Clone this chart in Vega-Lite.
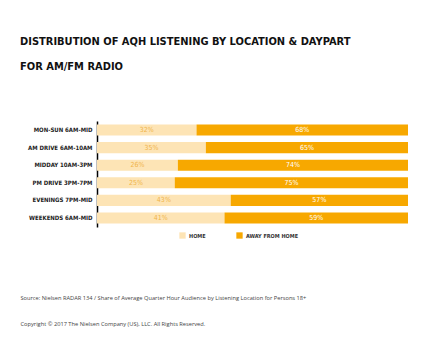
{
  "$schema": "https://vega.github.io/schema/vega-lite/v6.json",
  "autosize": "none",
  "width": 311,
  "height": 106,
  "padding": {"left": 97, "top": 121, "right": 23, "bottom": 117},
  "background": "white",
  "title": {
    "text": ["DISTRIBUTION OF AQH LISTENING BY LOCATION & DAYPART", "FOR AM/FM RADIO"],
    "anchor": "start",
    "frame": "group",
    "dx": -77,
    "offset": 49,
    "font": "DejaVu Sans Condensed, Liberation Sans Narrow, sans-serif",
    "fontWeight": "bold",
    "fontSize": 11,
    "lineHeight": 25,
    "color": "#111111"
  },
  "data": {
    "values": [
      {"daypart": "MON-SUN 6AM-MID", "loc": "HOME", "k": 1, "pct": 32},
      {"daypart": "MON-SUN 6AM-MID", "loc": "AWAY FROM HOME", "k": 2, "pct": 68},
      {"daypart": "AM DRIVE 6AM-10AM", "loc": "HOME", "k": 1, "pct": 35},
      {"daypart": "AM DRIVE 6AM-10AM", "loc": "AWAY FROM HOME", "k": 2, "pct": 65},
      {"daypart": "MIDDAY 10AM-3PM", "loc": "HOME", "k": 1, "pct": 26},
      {"daypart": "MIDDAY 10AM-3PM", "loc": "AWAY FROM HOME", "k": 2, "pct": 74},
      {"daypart": "PM DRIVE 3PM-7PM", "loc": "HOME", "k": 1, "pct": 25},
      {"daypart": "PM DRIVE 3PM-7PM", "loc": "AWAY FROM HOME", "k": 2, "pct": 75},
      {"daypart": "EVENINGS 7PM-MID", "loc": "HOME", "k": 1, "pct": 43},
      {"daypart": "EVENINGS 7PM-MID", "loc": "AWAY FROM HOME", "k": 2, "pct": 57},
      {"daypart": "WEEKENDS 6AM-MID", "loc": "HOME", "k": 1, "pct": 41},
      {"daypart": "WEEKENDS 6AM-MID", "loc": "AWAY FROM HOME", "k": 2, "pct": 59}
    ]
  },
  "transform": [
    {"stack": "pct", "groupby": ["daypart"], "sort": [{"field": "k"}], "as": ["x0", "x1"]},
    {"calculate": "(datum.x0 + datum.x1) / 2", "as": "mid"},
    {"calculate": "datum.pct + '%'", "as": "label"}
  ],
  "encoding": {
    "y": {
      "field": "daypart",
      "type": "nominal",
      "sort": null,
      "scale": {"paddingInner": 0.37, "paddingOuter": 0.2},
      "axis": {
        "title": null,
        "ticks": false,
        "domainColor": "#000000",
        "domainWidth": 1.5,
        "labelFont": "DejaVu Sans Condensed, Liberation Sans Narrow, sans-serif",
        "labelFontWeight": "bold",
        "labelFontSize": 6,
        "labelColor": "#222222",
        "labelPadding": 5
      }
    }
  },
  "layer": [
    {
      "mark": {"type": "bar"},
      "encoding": {
        "x": {
          "field": "x0",
          "type": "quantitative",
          "scale": {"domain": [0, 100], "nice": false},
          "axis": {
            "title": [
              "Source: Nielsen RADAR 134 / Share of Average Quarter Hour Audience by Listening Location for Persons 18+",
              "Copyright © 2017 The Nielsen Company (US), LLC. All Rights Reserved."
            ],
            "titleAnchor": "start",
            "titleAlign": "left",
            "titleX": -77,
            "titleY": 72,
            "titleBaseline": "alphabetic",
            "titleFont": "Open Sans",
            "titleFontWeight": "normal",
            "titleFontSize": 5.7,
            "titleColor": "#444444",
            "titleLineHeight": 26,
            "labels": false,
            "ticks": false,
            "domain": false,
            "grid": false
          }
        },
        "x2": {"field": "x1"},
        "color": {
          "field": "loc",
          "type": "nominal",
          "scale": {"domain": ["HOME", "AWAY FROM HOME"], "range": ["#fde4b5", "#f7a800"]},
          "legend": {
            "title": null,
            "orient": "none",
            "legendX": 82,
            "legendY": 111,
            "direction": "horizontal",
            "symbolType": "square",
            "symbolSize": 40,
            "symbolOpacity": 1,
            "symbolStrokeWidth": 0,
            "labelFont": "DejaVu Sans Condensed, Liberation Sans Narrow, sans-serif",
            "labelFontWeight": "bold",
            "labelFontSize": 5.5,
            "labelColor": "#333333",
            "labelOffset": 3,
            "columnPadding": 30
          }
        }
      }
    },
    {
      "mark": {"type": "text", "font": "DejaVu Sans Condensed, Liberation Sans Narrow, sans-serif", "fontSize": 7, "baseline": "middle"},
      "encoding": {
        "x": {"field": "mid", "type": "quantitative"},
        "text": {"field": "label", "type": "nominal"},
        "color": {"condition": {"test": "datum.loc === 'HOME'", "value": "#f0b44a"}, "value": "#ffffff"}
      }
    }
  ],
  "config": {"view": {"stroke": null}}
}
